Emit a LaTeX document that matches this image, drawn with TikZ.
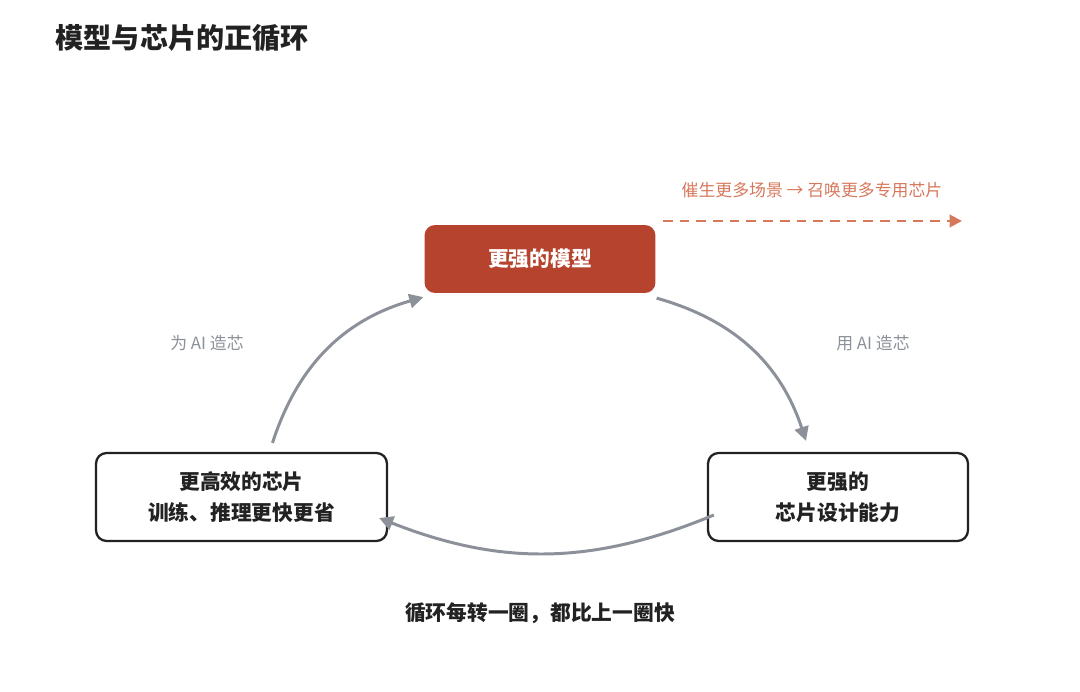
\documentclass[tikz,border=0pt]{standalone}
\usepackage{fontspec}
\setmainfont{Noto Sans CJK SC}
\usetikzlibrary{arrows.meta}
\definecolor{modelred}{HTML}{B5432E}
\definecolor{hintorange}{HTML}{D6785C}
\definecolor{loopgray}{HTML}{8B9099}
\definecolor{inkdark}{HTML}{222222}
\begin{document}
\begin{tikzpicture}[x=0.02cm,y=0.02cm,thick,
    main node/.style={rounded corners=6pt,draw=inkdark,line width=1.3pt,fill=white,font=\fontsize{11.8}{17.6}\selectfont\bfseries,text=inkdark,align=center,minimum height=1.76cm},
    loop edge/.style={draw=loopgray,line width=1.7pt,-{Triangle[length=8pt,width=8pt,fill=loopgray]}},
    side label/.style={font=\fontsize{9.6}{12}\selectfont,text=loopgray}]
                \useasboundingbox (0,0) rectangle (1080,691);

                \node[anchor=west,inner sep=0pt,font=\fontsize{16}{20}\selectfont\bfseries,text=inkdark] at (55,653) (title) {模型与芯片的正循环};

                \node[main node,draw=none,fill=modelred,text=white,minimum width=4.62cm,minimum height=1.36cm] at (540,432) (model) {更强的模型};
                \node[main node,minimum width=5.82cm] at (241.5,194) (chip) {更高效的芯片\\训练、推理更快更省};
                \node[main node,minimum width=5.2cm] at (838,194) (design) {更强的\\芯片设计能力};

                \node[font=\fontsize{9.6}{12}\selectfont,text=hintorange] at (812,501) (hint) {催生更多场景 → 召唤更多专用芯片};
                \coordinate (hintstart) at (663,470);
                \coordinate (hintend) at (962,470);
                \draw[hintorange,line width=1.6pt,dash pattern=on 5.5pt off 4pt,-{Triangle[length=7pt,width=7pt]}] (hintstart) -- (hintend);

                \node[side label] at (207,348) (forai) {为 AI 造芯};
                \node[side label] at (873,348) (byai) {用 AI 造芯};

                \path
					([shift={(31,9)}]chip.north) edge[loop edge,bend left=28] ([shift={(0,-3)}]model.south west)
					([shift={(0,-4)}]model.south east) edge[loop edge,bend left=28] ([shift={(-32,11)}]design.north)
					([shift={(7,-18)}]design.west) edge[loop edge,bend left=22] ([shift={(-9,-21)}]chip.east)
                    ;

                \node[font=\fontsize{11.8}{14}\selectfont\bfseries,text=inkdark] at (540,78) (footer) {循环每转一圈，都比上一圈快};
            \end{tikzpicture}
\end{document}
